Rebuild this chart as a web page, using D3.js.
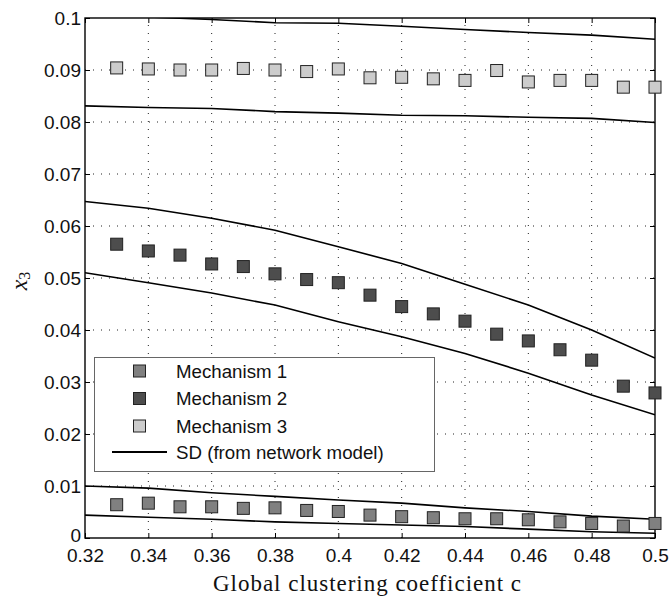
<!DOCTYPE html>
<html><head><meta charset="utf-8">
<script src="https://cdn.jsdelivr.net/npm/d3@7"></script>
<style>body{margin:0;background:#fff}</style>
</head><body>
<script>
const simX = [0.33,0.34,0.35,0.36,0.37,0.38,0.39,0.40,0.41,0.42,0.43,0.44,0.45,0.46,0.47,0.48,0.49,0.50];
const mech1 = [0.0064,0.0067,0.0060,0.0060,0.0057,0.0058,0.0053,0.0051,0.0044,0.0041,0.0039,0.0037,0.0037,0.0035,0.0031,0.0028,0.0023,0.0028];
const mech2 = [0.0565,0.0552,0.0544,0.0527,0.0522,0.0508,0.0497,0.0491,0.0467,0.0445,0.0431,0.0417,0.0392,0.0379,0.0362,0.0342,0.0292,0.0279];
const mech3 = [0.0904,0.0902,0.0900,0.0900,0.0903,0.0900,0.0897,0.0902,0.0885,0.0886,0.0883,0.0880,0.0899,0.0877,0.0880,0.0880,0.0867,0.0867];
const sdX = [0.32,0.34,0.36,0.38,0.40,0.42,0.44,0.46,0.48,0.50];
const sd1Upper = [0.0100,0.0096,0.0087,0.0080,0.0073,0.0067,0.0058,0.0051,0.0042,0.0036];
const sd1Lower = [0.0044,0.0040,0.0036,0.0031,0.0028,0.0025,0.0022,0.0017,0.0012,0.0009];
const sd2Upper = [0.0647,0.0634,0.0615,0.0592,0.0560,0.0528,0.0488,0.0448,0.0400,0.0346];
const sd2Lower = [0.0510,0.0491,0.0471,0.0448,0.0416,0.0387,0.0355,0.0317,0.0275,0.0237];
const sd3Upper = [0.1005,0.1002,0.0997,0.0991,0.0990,0.0984,0.0978,0.0972,0.0967,0.0959];
const sd3Lower = [0.0831,0.0828,0.0826,0.0820,0.0817,0.0813,0.0812,0.0809,0.0807,0.0799];
const xTicks = [0.32,0.34,0.36,0.38,0.40,0.42,0.44,0.46,0.48,0.50];
const xTickLabels = ["0.32","0.34","0.36","0.38","0.4","0.42","0.44","0.46","0.48","0.5"];
const yTicks = [0,0.01,0.02,0.03,0.04,0.05,0.06,0.07,0.08,0.09,0.1];
const yTickLabels = ["0","0.01","0.02","0.03","0.04","0.05","0.06","0.07","0.08","0.09","0.1"];
const seriesNames = ["Mechanism 1","Mechanism 2","Mechanism 3"];
const seriesColors = ["#808080","#4d4d4d","#cccccc"];
const sdLabel = "SD (from network model)";

const W=671,H=597;
const m={l:85,r:16,t:18,b:59};
const svg=d3.select("body").append("svg").attr("width",W).attr("height",H);
const x=d3.scaleLinear().domain([0.32,0.5]).range([m.l,W-m.r]);
const y=d3.scaleLinear().domain([0,0.1]).range([H-m.b,m.t]);
const font="'Liberation Sans', Arial, sans-serif";

// grid
const g=svg.append("g");
g.selectAll(".gx").data(xTicks.slice(1,-1)).join("line")
 .attr("x1",d=>x(d)).attr("x2",d=>x(d)).attr("y1",y(0)).attr("y2",y(0.1))
 .attr("stroke","#222").attr("stroke-width",1).attr("stroke-dasharray","1,7");
g.selectAll(".gy").data(yTicks.slice(1,-1)).join("line")
 .attr("y1",d=>y(d)).attr("y2",d=>y(d)).attr("x1",x(0.32)).attr("x2",x(0.5))
 .attr("stroke","#222").attr("stroke-width",1).attr("stroke-dasharray","1,7");

// axes (inward ticks)
const tl=5;
const ax=svg.append("g").attr("transform",`translate(0,${y(0)})`)
 .call(d3.axisBottom(x).tickValues(xTicks).tickFormat((d,i)=>xTickLabels[i]).tickSizeInner(-tl).tickSizeOuter(0).tickPadding(10));
const axT=svg.append("g").attr("transform",`translate(0,${y(0.1)})`)
 .call(d3.axisTop(x).tickValues(xTicks).tickFormat("").tickSizeInner(-tl).tickSizeOuter(0));
const ay=svg.append("g").attr("transform",`translate(${x(0.32)},0)`)
 .call(d3.axisLeft(y).tickValues(yTicks).tickFormat((d,i)=>yTickLabels[i]).tickSizeInner(-tl).tickSizeOuter(0).tickPadding(4));
const ayR=svg.append("g").attr("transform",`translate(${x(0.5)},0)`)
 .call(d3.axisRight(y).tickValues(yTicks).tickFormat("").tickSizeInner(-tl).tickSizeOuter(0));
[ax,axT,ay,ayR].forEach(a=>{a.select(".domain").remove();a.selectAll("line").attr("stroke","#000");
 a.selectAll("text").attr("font-family",font).attr("font-size",19).attr("fill","#111");});
ax.selectAll("text").attr("dy","0.72em");
ay.selectAll("text").attr("dy",(d)=>d===0?"0.18em":"0.36em");

// clip
svg.append("clipPath").attr("id","clip").append("rect")
 .attr("x",x(0.32)).attr("y",y(0.1)).attr("width",x(0.5)-x(0.32)).attr("height",y(0)-y(0.1));

// SD lines
const line=d3.line().x((d,i)=>x(sdX[i])).y(d=>y(d));
[sd1Upper,sd1Lower,sd2Upper,sd2Lower,sd3Upper,sd3Lower].forEach(s=>{
 svg.append("path").attr("d",line(s)).attr("fill","none").attr("stroke","#000").attr("stroke-width",1.6).attr("clip-path","url(#clip)");
});

// frame
svg.append("rect").attr("x",x(0.32)).attr("y",y(0.1)).attr("width",x(0.5)-x(0.32)).attr("height",y(0)-y(0.1))
 .attr("fill","none").attr("stroke","#000").attr("stroke-width",1.4);

// squares
const sq=12;
[mech1,mech2,mech3].forEach((s,k)=>{
 svg.append("g").selectAll("rect").data(s).join("rect")
  .attr("x",(d,i)=>x(simX[i])-sq/2).attr("y",d=>y(d)-sq/2).attr("width",sq).attr("height",sq)
  .attr("fill",seriesColors[k]).attr("stroke","#222").attr("stroke-width",1);
});

// legend
const lg=svg.append("g");
lg.append("rect").attr("x",94.5).attr("y",357.5).attr("width",340).attr("height",114)
 .attr("fill","#fff").attr("stroke","#666").attr("stroke-width",1);
const ly=[371,398.5,426];
seriesNames.forEach((n,k)=>{
 lg.append("rect").attr("x",139.5-sq/2).attr("y",ly[k]-sq/2).attr("width",sq).attr("height",sq)
  .attr("fill",seriesColors[k]).attr("stroke","#222");
 lg.append("text").attr("x",176).attr("y",ly[k]).attr("dy","0.36em").text(n)
  .attr("font-family",font).attr("font-size",18.7).attr("fill","#111");
});
lg.append("line").attr("x1",112).attr("x2",167).attr("y1",452).attr("y2",452).attr("stroke","#000").attr("stroke-width",1.8);
lg.append("text").attr("x",176).attr("y",452).attr("dy","0.36em").text(sdLabel)
 .attr("font-family",font).attr("font-size",18.7).attr("fill","#111");

// axis labels
svg.append("text").attr("x",367).attr("y",591).attr("text-anchor","middle")
 .attr("font-family","'Liberation Serif','DejaVu Serif',serif").attr("font-size",23).attr("fill","#111")
 .attr("textLength",308).attr("lengthAdjust","spacing")
 .text("Global clustering coefficient c");
const yl=svg.append("text").attr("transform","translate(27,281) rotate(-90)").attr("text-anchor","middle")
 .attr("font-family","'Liberation Serif',serif").attr("font-size",24).attr("fill","#111");
yl.append("tspan").attr("font-style","italic").text("x");
yl.append("tspan").attr("font-size",16).attr("dy",3).text("3");
</script>
</body></html>
